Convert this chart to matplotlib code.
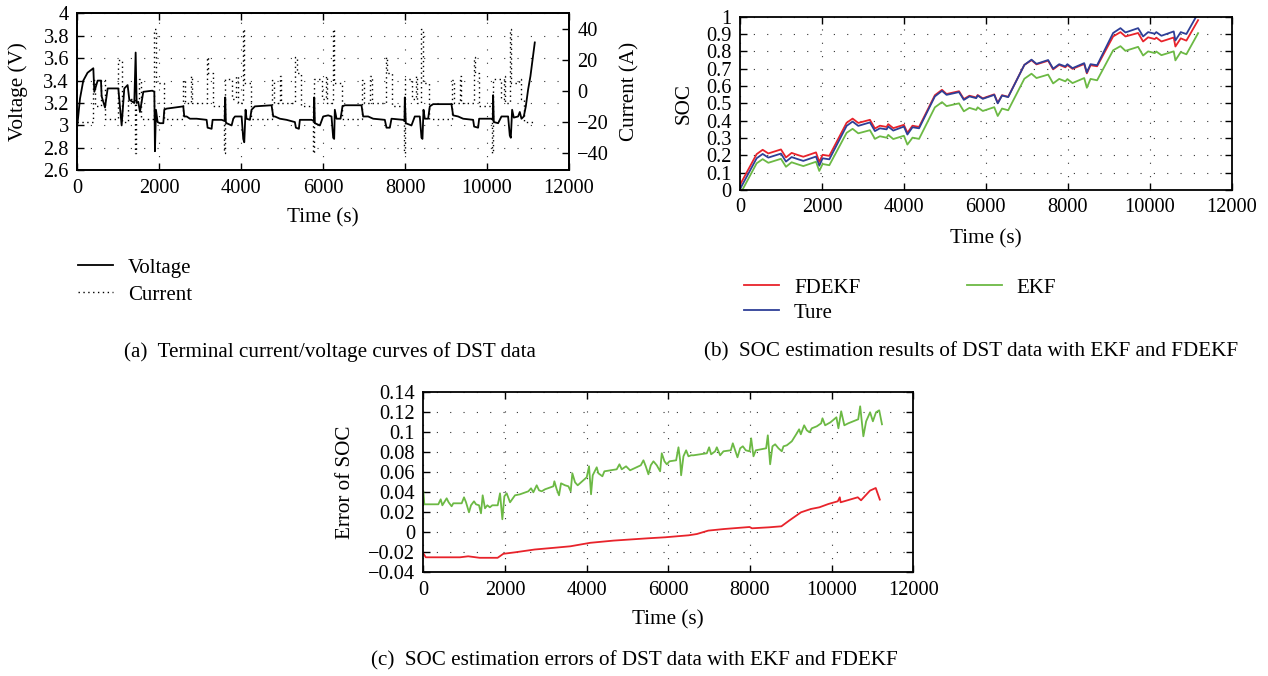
import matplotlib
matplotlib.use("Agg")
import matplotlib.pyplot as plt
from matplotlib.ticker import FuncFormatter, MultipleLocator

plt.rcParams['font.family'] = ['Liberation Serif', 'DejaVu Serif']
plt.rcParams['axes.unicode_minus'] = True

# ---------------- data: panel (a) ----------------
t_volt = [0, 66, 146, 250, 391, 415, 497, 578, 594, 676,
          741, 1001, 1082, 1147, 1228, 1269, 1391, 1424, 1448, 1489,
          1529, 1611, 1830, 1880, 1895, 1920, 1960, 2017, 2099, 2123,
          2180, 2586, 2611, 2668, 2749, 2912, 3156, 3180, 3278, 3302,
          3522, 3595, 3610, 3625, 3644, 3766, 3807, 3848, 4010, 4050,
          4075, 4107, 4131, 4213, 4253, 4334, 4741, 4782, 4822, 4944,
          5107, 5310, 5335, 5408, 5432, 5717, 5775, 5782, 5798, 5920,
          6001, 6123, 6204, 6245, 6269, 6285, 6326, 6424, 6472, 6529,
          6936, 6976, 7098, 7220, 7505, 7546, 7627, 7668, 7952, 7985,
          7993, 8017, 8155, 8237, 8359, 8400, 8424, 8449, 8481, 8562,
          8603, 8684, 9131, 9172, 9294, 9416, 9660, 9685, 9782, 9807,
          10108, 10140, 10148, 10165, 10270, 10352, 10514, 10555, 10580, 10612,
          10653, 10758, 10799, 10840, 10897, 10946, 11002, 11059, 11108, 11165]
voltage = [3.00, 3.24, 3.40, 3.47, 3.51, 3.30, 3.40, 3.40, 3.26, 3.16,
           3.33, 3.33, 3.00, 3.33, 3.36, 3.23, 3.20, 3.65, 3.20, 3.21,
           3.12, 3.30, 3.31, 3.30, 2.77, 3.14, 3.03, 3.02, 3.02, 3.14,
           3.15, 3.17, 3.08, 3.08, 3.06, 3.06, 3.05, 2.98, 2.97, 3.05,
           3.05, 3.04, 3.25, 3.03, 3.02, 3.00, 3.06, 3.08, 3.08, 2.88,
           2.85, 3.14, 3.06, 3.05, 3.14, 3.17, 3.18, 3.08, 3.08, 3.06,
           3.05, 3.03, 2.98, 2.97, 3.05, 3.05, 3.04, 3.25, 3.02, 3.00,
           3.08, 3.09, 3.08, 2.89, 2.88, 3.14, 3.06, 3.06, 3.17, 3.18,
           3.18, 3.08, 3.08, 3.06, 3.05, 2.98, 2.98, 3.06, 3.05, 3.04,
           3.25, 3.02, 3.00, 3.08, 3.08, 2.89, 2.88, 3.14, 3.06, 3.06,
           3.17, 3.19, 3.19, 3.09, 3.08, 3.06, 3.05, 2.99, 2.98, 3.06,
           3.06, 3.05, 3.27, 3.03, 3.02, 3.08, 3.08, 2.91, 2.89, 3.14,
           3.07, 3.08, 3.12, 3.06, 3.08, 3.17, 3.32, 3.44, 3.58, 3.74]

t_curr = [0, 390, 420, 590, 680, 1000, 1085, 1240, 1400, 1430, 1500, 1560,
          1880, 1910, 2110, 2580, 2620, 2780, 2810, 3160, 3200, 3300, 3580, 3605, 3780, 3880, 3910,
          4050, 4080, 4250, 4760, 4800, 4950, 4980, 5320, 5360, 5450, 5760, 5785, 5960, 6060, 6090,
          6245, 6275, 6460, 6960, 7000, 7150, 7180, 7530, 7570, 7670, 7975, 8000, 8160, 8260, 8290,
          8400, 8430, 8590, 9150, 9190, 9330, 9360, 9670, 9710, 9810, 10130, 10155, 10330, 10420, 10450,
          10555, 10590, 10780, 10820, 10900, 11165]
current = [-20, 7, -10, 7, -18, 20, -20, -5, -40, -5, 8, -18,
           40, 5, -18, 7, -8, 10, -8, 22, 12, -10, -40, 8, -5, 10, -8,
           40, 5, -18, 7, -8, 10, -8, 22, 12, -10, -40, 8, -5, 10, -8,
           40, 5, -18, 7, -8, 10, -8, 22, 12, -10, -40, 8, -5, 10, -8,
           40, 5, -18, 7, -8, 10, -8, 22, 12, -10, -40, 8, -5, 10, -8,
           40, 5, 8, -5, -20, -20]

# ---------------- data: panel (b) ----------------
t_soc = [0, 406, 553, 691, 1000, 1122, 1260, 1423, 1545, 1855,
         1935, 2016, 2180, 2602, 2748, 2886, 3171, 3293, 3415, 3578,
         3618, 3740, 4000, 4085, 4210, 4370, 4756, 4930, 5041, 5345,
         5463, 5600, 5765, 5800, 5925, 6205, 6290, 6395, 6545, 6940,
         7114, 7236, 7520, 7642, 7790, 7940, 7990, 8115, 8400, 8465,
         8555, 8715, 9106, 9285, 9407, 9716, 9838, 9960, 10122, 10160,
         10285, 10585, 10626, 10756, 10894, 11180]
soc_true = [0.005, 0.183, 0.208, 0.187, 0.21, 0.164, 0.19, 0.177, 0.168, 0.193,
            0.14, 0.183, 0.177, 0.37, 0.395, 0.37, 0.39, 0.34, 0.356, 0.35,
            0.366, 0.343, 0.366, 0.32, 0.362, 0.356, 0.54, 0.572, 0.549, 0.565,
            0.52, 0.54, 0.53, 0.545, 0.526, 0.549, 0.50, 0.545, 0.536, 0.722,
            0.752, 0.728, 0.75, 0.70, 0.726, 0.713, 0.726, 0.703, 0.732, 0.678,
            0.726, 0.72, 0.906, 0.934, 0.909, 0.934, 0.886, 0.911, 0.902, 0.911,
            0.89, 0.915, 0.863, 0.911, 0.90, 1.02]
soc_fdekf = [0.03, 0.207, 0.232, 0.211, 0.234, 0.188, 0.214, 0.201, 0.192, 0.217,
             0.162, 0.203, 0.197, 0.388, 0.412, 0.387, 0.405, 0.355, 0.371, 0.364,
             0.38, 0.357, 0.376, 0.33, 0.371, 0.364, 0.547, 0.578, 0.554, 0.57,
             0.525, 0.544, 0.534, 0.548, 0.529, 0.552, 0.503, 0.547, 0.538, 0.722,
             0.749, 0.725, 0.746, 0.696, 0.722, 0.708, 0.721, 0.699, 0.727, 0.673,
             0.72, 0.714, 0.886, 0.911, 0.886, 0.906, 0.857, 0.881, 0.871, 0.879,
             0.857, 0.88, 0.828, 0.875, 0.862, 0.98]
soc_ekf = [-0.025, 0.154, 0.178, 0.157, 0.18, 0.134, 0.16, 0.147, 0.138, 0.163,
           0.11, 0.15, 0.143, 0.33, 0.353, 0.327, 0.345, 0.295, 0.31, 0.302,
           0.318, 0.294, 0.313, 0.262, 0.302, 0.295, 0.477, 0.507, 0.484, 0.5,
           0.454, 0.474, 0.462, 0.477, 0.456, 0.478, 0.427, 0.47, 0.46, 0.642,
           0.671, 0.646, 0.666, 0.615, 0.641, 0.627, 0.64, 0.617, 0.646, 0.59,
           0.641, 0.633, 0.806, 0.83, 0.803, 0.826, 0.776, 0.8, 0.79, 0.799,
           0.778, 0.8, 0.748, 0.796, 0.783, 0.905]

# ---------------- data: panel (c) ----------------
t_err_fdekf = [0, 60, 900, 1100, 1380, 1820, 1960, 2250, 2730, 3200,
               3600, 4090, 4660, 5500, 5920, 6500, 6700, 6980, 7370, 7990,
               8050, 8470, 8770, 8960, 9250, 9490, 9700, 9920, 10150, 10200,
               10220, 10640, 10720, 10940, 11080, 11180]
err_fdekf = [-0.021, -0.025, -0.025, -0.024, -0.0255, -0.0255, -0.0215, -0.02, -0.0172, -0.0155,
             -0.014, -0.0105, -0.0083, -0.006, -0.005, -0.003, -0.0017, 0.0017, 0.0033, 0.0053,
             0.004, 0.005, 0.006, 0.0117, 0.02, 0.0233, 0.025, 0.0283, 0.031, 0.035,
             0.03, 0.035, 0.032, 0.0417, 0.0443, 0.0327]

t_err_ekf = [0, 25, 368, 426, 467, 572, 620, 694, 735, 940,
             997, 1046, 1119, 1168, 1242, 1290, 1364, 1413, 1454, 1511,
             1568, 1630, 1690, 1822, 1879, 1936, 1985, 2042, 2124, 2246,
             2368, 2573, 2638, 2695, 2777, 2834, 2899, 2981, 3185, 3210,
             3267, 3324, 3373, 3471, 3553, 3610, 3650, 3716, 3781, 4002,
             4059, 4108, 4149, 4247, 4288, 4386, 4435, 4737, 4803, 4860,
             4966, 5064, 5326, 5391, 5448, 5513, 5571, 5636, 5718, 5800,
             5840, 5906, 5963, 6028, 6192, 6249, 6290, 6314, 6371, 6437,
             6494, 6559, 6616, 6943, 7000, 7049, 7147, 7188, 7270, 7351,
             7531, 7580, 7637, 7694, 7760, 7825, 7898, 7988, 8029, 8086,
             8143, 8396, 8437, 8494, 8551, 8617, 8698, 8780, 8821, 8902,
             9025, 9147, 9204, 9245, 9327, 9392, 9457, 9515, 9637, 9743,
             9776, 9841, 9972, 10117, 10166, 10234, 10311, 10408, 10651, 10699,
             10777, 10845, 10942, 11010, 11087, 11165, 11233]
err_ekf = [0.041, 0.028, 0.028, 0.033, 0.027, 0.034, 0.03, 0.026, 0.029, 0.029,
           0.035, 0.03, 0.02, 0.027, 0.031, 0.028, 0.027, 0.019, 0.037, 0.024,
           0.027, 0.025, 0.027, 0.027, 0.039, 0.013, 0.036, 0.039, 0.03, 0.037,
           0.038, 0.041, 0.044, 0.04, 0.047, 0.042, 0.041, 0.043, 0.046, 0.051,
           0.043, 0.037, 0.049, 0.047, 0.046, 0.041, 0.059, 0.05, 0.047, 0.055,
           0.066, 0.038, 0.057, 0.065, 0.059, 0.056, 0.061, 0.063, 0.068, 0.063,
           0.066, 0.062, 0.067, 0.072, 0.066, 0.058, 0.067, 0.071, 0.067, 0.061,
           0.079, 0.071, 0.068, 0.071, 0.072, 0.085, 0.072, 0.057, 0.076, 0.082,
           0.076, 0.077, 0.077, 0.079, 0.085, 0.078, 0.081, 0.085, 0.077, 0.081,
           0.082, 0.089, 0.082, 0.075, 0.084, 0.086, 0.082, 0.081, 0.094, 0.076,
           0.082, 0.084, 0.097, 0.068, 0.086, 0.088, 0.084, 0.081, 0.086, 0.087,
           0.091, 0.099, 0.103, 0.098, 0.107, 0.102, 0.1, 0.104, 0.106, 0.109,
           0.114, 0.107, 0.11, 0.115, 0.104, 0.121, 0.107, 0.109, 0.113, 0.126,
           0.096, 0.111, 0.12, 0.111, 0.12, 0.122, 0.108]

x_ticks = [0, 2000, 4000, 6000, 8000, 10000, 12000]

# ---------------- styling ----------------
W, H = 1268, 676
RED, BLUE, GREEN = '#e8232b', '#2e3f97', '#6cb944'
TICK_FS, LAB_FS, LEG_FS, CAP_FS = 14.7, 15.2, 15, 15.2
GRID_KW = dict(color='#333333', linestyle=(0, (1, 11)), linewidth=0.8)


def fmt(v, pos=None):
    s = '%g' % round(v, 6)
    return s.replace('-', '\u2212')


def box(l, t, r, b):
    return [l / W, 1 - b / H, (r - l) / W, (b - t) / H]


def style(ax):
    ax.tick_params(direction='in', top=True, right=True, length=5, width=1,
                   labelsize=TICK_FS, pad=6)
    for s in ax.spines.values():
        s.set_linewidth(1.3)
    ax.grid(True, **GRID_KW)
    ax.set_axisbelow(True)
    ax.xaxis.set_major_formatter(FuncFormatter(fmt))
    ax.yaxis.set_major_formatter(FuncFormatter(fmt))


fig = plt.figure(figsize=(W / 100, H / 100), dpi=100)

# ---- panel (a) ----
axa = fig.add_axes(box(77.3, 13.3, 569, 170.3))
style(axa)
axa.tick_params(right=False)
lv, = axa.plot(t_volt, voltage, color='black', lw=1.3)
axa.set_xlim(0, 12000)
axa.set_ylim(2.6, 4.0)
axa.set_xticks(x_ticks)
axa.yaxis.set_major_locator(MultipleLocator(0.2))
axa.set_xlabel('Time (s)', fontsize=LAB_FS)
axa.set_ylabel('Voltage (V)', fontsize=LAB_FS)
axa.xaxis.set_label_coords(0.5, (170.3 - 218) / 157)
axa.xaxis.label.set_verticalalignment('center')
axa.yaxis.set_label_coords((18 - 77.3) / 491.7, 0.5)
axa.yaxis.label.set_verticalalignment('center')

axa2 = axa.twinx()
lc, = axa2.step(t_curr, current, where='post', color='black', lw=1.0,
                linestyle=(0, (1, 2.5)))
axa2.set_ylim(-51.5, 50.5)
axa2.set_yticks([-40, -20, 0, 20, 40])
axa2.yaxis.set_major_formatter(FuncFormatter(fmt))
axa2.tick_params(direction='in', length=5, width=1, labelsize=TICK_FS, pad=6)
axa2.set_ylabel('Current (A)', fontsize=LAB_FS)
axa2.yaxis.set_label_coords((630 - 77.3) / 491.7, 0.5)
axa2.yaxis.label.set_verticalalignment('center')
for s in axa2.spines.values():
    s.set_linewidth(1.3)

fig.legend([lv, lc], ['Voltage', 'Current'], loc='upper left',
           bbox_to_anchor=(78 / W, 1 - 258 / H), frameon=False, fontsize=LEG_FS,
           borderpad=0, borderaxespad=0, handlelength=1.68, handletextpad=0.72,
           labelspacing=0.36)

# ---- panel (b) ----
axb = fig.add_axes(box(740, 16.7, 1231.7, 190))
style(axb)
lr, = axb.plot(t_soc, soc_fdekf, color=RED, lw=1.3)
lb, = axb.plot(t_soc, soc_true, color=BLUE, lw=1.3)
lg, = axb.plot(t_soc, soc_ekf, color=GREEN, lw=1.3)
axb.set_xlim(0, 12000)
axb.set_ylim(0, 1)
axb.set_xticks(x_ticks)
axb.yaxis.set_major_locator(MultipleLocator(0.1))
axb.set_xlabel('Time (s)', fontsize=LAB_FS)
axb.set_ylabel('SOC', fontsize=LAB_FS)
axb.xaxis.set_label_coords(0.5, (190 - 239) / 173.3)
axb.xaxis.label.set_verticalalignment('center')
axb.yaxis.set_label_coords((684 - 740) / 491.7, 0.5)
axb.yaxis.label.set_verticalalignment('center')

fig.legend([lr, lb, lg], ['FDEKF', 'Ture', 'EKF'], loc='upper left', ncol=2,
           bbox_to_anchor=(744 / W, 1 - 278 / H), frameon=False, fontsize=LEG_FS,
           borderpad=0, borderaxespad=0, handlelength=1.68, handletextpad=0.72,
           labelspacing=0.26, columnspacing=5.1)

# ---- panel (c) ----
axc = fig.add_axes(box(423.3, 392.3, 913.3, 572.3))
style(axc)
axc.plot(t_err_ekf, err_ekf, color=GREEN, lw=1.3)
axc.plot(t_err_fdekf, err_fdekf, color=RED, lw=1.3)
axc.set_xlim(0, 12000)
axc.set_ylim(-0.04, 0.14)
axc.set_xticks(x_ticks)
axc.yaxis.set_major_locator(MultipleLocator(0.02))
axc.set_xlabel('Time (s)', fontsize=LAB_FS)
axc.set_ylabel('Error of SOC', fontsize=LAB_FS)
axc.xaxis.set_label_coords(0.5, (572.3 - 620) / 180)
axc.xaxis.label.set_verticalalignment('center')
axc.yaxis.set_label_coords((345 - 423.3) / 490, 0.5)
axc.yaxis.label.set_verticalalignment('center')

# ---- captions ----
fig.text(330 / W, 1 - 352 / H, '(a)  Terminal current/voltage curves of DST data',
         ha='center', va='center', fontsize=CAP_FS)
fig.text(971 / W, 1 - 352 / H, '(b)  SOC estimation results of DST data with EKF and FDEKF',
         ha='center', va='center', fontsize=CAP_FS)
fig.text(634 / W, 1 - 661 / H, '(c)  SOC estimation errors of DST data with EKF and FDEKF',
         ha='center', va='center', fontsize=CAP_FS)

fig.savefig('out.png', dpi=100)
